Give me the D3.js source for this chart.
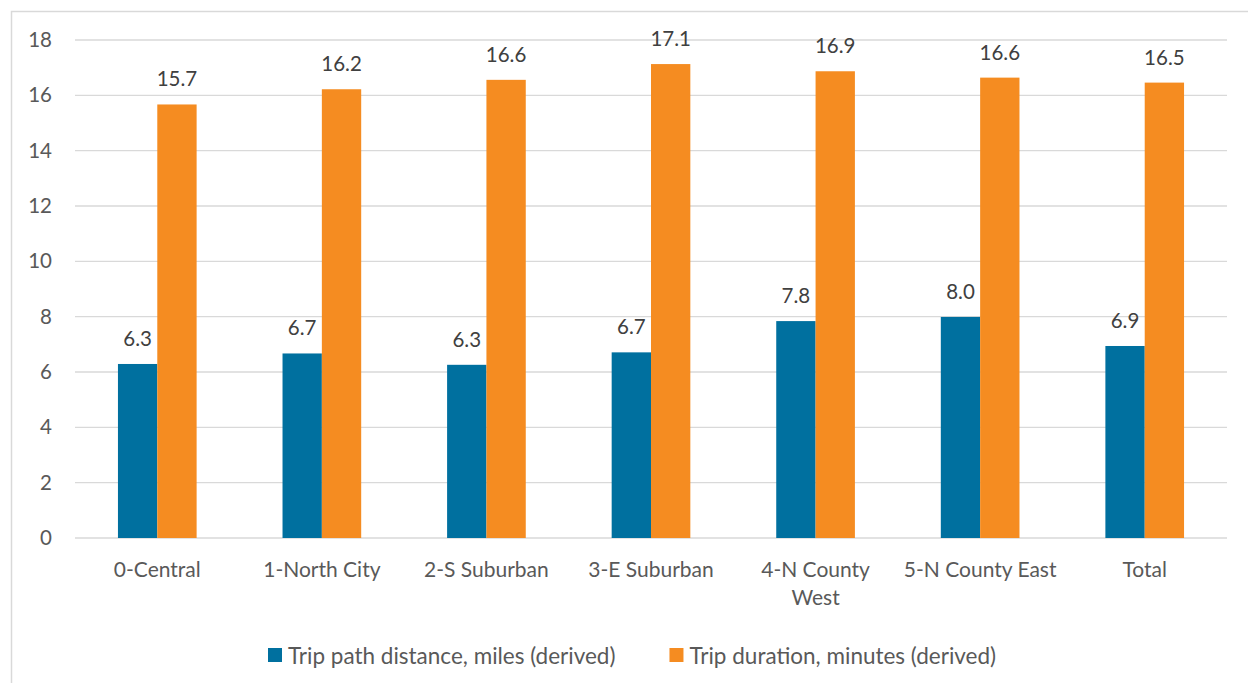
<!doctype html>
<html>
<head>
<meta charset="utf-8">
<script src="https://d3js.org/d3.v7.min.js"></script>
<style>
  body { margin: 0; background: #fff; }
  text { font-family: Lato, "Open Sans", sans-serif; fill: #595959; }
</style>
</head>
<body>
<div id="chart"></div>
<script>
// categories and series values
var categories = ["0-Central", "1-North City", "2-S Suburban", "3-E Suburban", "4-N County West", "5-N County East", "Total"];
var catLines = [["0-Central"], ["1-North City"], ["2-S Suburban"], ["3-E Suburban"], ["4-N County", "West"], ["5-N County East"], ["Total"]];
var seriesNames = ["Trip path distance, miles (derived)", "Trip duration, minutes (derived)"];
var distance = [6.29, 6.67, 6.26, 6.71, 7.84, 7.99, 6.94];
var duration = [15.67, 16.22, 16.56, 17.13, 16.87, 16.64, 16.46];
var yTicks = [0, 2, 4, 6, 8, 10, 12, 14, 16, 18];
var colors = ["#00709f", "#f58c21"];

var W = 1248, H = 683;
var margin = {top: 40, right: 21, bottom: 145, left: 75};
var width = W - margin.left - margin.right,
    height = H - margin.top - margin.bottom;

var svg = d3.select("#chart").append("svg")
    .attr("width", W)
    .attr("height", H);

// outer chart border
svg.append("rect")
    .attr("x", 11.5).attr("y", 11.5)
    .attr("width", W).attr("height", H)
    .attr("fill", "none")
    .attr("stroke", "#d9d9d9")
    .attr("stroke-width", 1.5);

var g = svg.append("g")
    .attr("transform", "translate(" + margin.left + "," + margin.top + ")");

var x0 = d3.scaleBand()
    .domain(categories)
    .range([0, width])
    .paddingInner(0.522)
    .paddingOuter(0.261);

var x1 = d3.scaleBand()
    .domain([0, 1])
    .range([0, x0.bandwidth()]);

var y = d3.scaleLinear()
    .domain([0, 18])
    .range([height, 0]);

// gridlines
g.selectAll(".grid")
    .data(yTicks)
    .enter().append("line")
    .attr("x1", 0).attr("x2", width)
    .attr("y1", function(d) { return y(d); })
    .attr("y2", function(d) { return y(d); })
    .attr("stroke", "#d9d9d9")
    .attr("stroke-width", 1.3);

// y axis labels
var yAxis = g.append("g")
    .call(d3.axisLeft(y).tickValues(yTicks).tickSize(0).tickPadding(23));
yAxis.select(".domain").remove();
yAxis.selectAll("text")
    .attr("font-size", "20.5px")
    .style("font-family", "Lato, sans-serif")
    .attr("fill", "#595959");

// bars
var rows = categories.map(function(c, i) {
    return {cat: c, vals: [distance[i], duration[i]]};
});

var groups = g.selectAll(".grp")
    .data(rows)
    .enter().append("g")
    .attr("transform", function(d) { return "translate(" + x0(d.cat) + ",0)"; });

groups.selectAll("rect")
    .data(function(d) { return d.vals; })
    .enter().append("rect")
    .attr("x", function(d, i) { return x1(i); })
    .attr("y", function(d) { return y(d); })
    .attr("width", x1.bandwidth())
    .attr("height", function(d) { return height - y(d); })
    .attr("fill", function(d, i) { return colors[i]; });

// value labels
groups.selectAll(".lbl")
    .data(function(d) { return d.vals; })
    .enter().append("text")
    .attr("x", function(d, i) { return x1(i) + x1.bandwidth() / 2; })
    .attr("y", function(d) { return y(d) - 18; })
    .attr("text-anchor", "middle")
    .attr("font-size", "20.5px")
    .style("fill", "#404040")
    .text(function(d) { return d3.format(".1f")(d); });

// category labels
var catText = g.selectAll(".cat")
    .data(rows)
    .enter().append("text")
    .attr("text-anchor", "middle")
    .attr("font-size", "21px")
    .attr("transform", function(d) {
        return "translate(" + (x0(d.cat) + x0.bandwidth() / 2) + "," + (height + 38.5) + ")";
    });
catText.selectAll("tspan")
    .data(function(d, i) { return catLines[i]; })
    .enter().append("tspan")
    .attr("x", 0)
    .attr("dy", function(d, i) { return i === 0 ? 0 : 28; })
    .text(function(d) { return d; });

// legend
var legend = svg.append("g").attr("transform", "translate(268,648)");
var lx = 0;
seriesNames.forEach(function(name, i) {
    var item = legend.append("g").attr("transform", "translate(" + lx + ",0)");
    item.append("rect")
        .attr("width", 14).attr("height", 14)
        .attr("fill", colors[i]);
    var t = item.append("text")
        .attr("x", 20)
        .attr("y", 16)
        .attr("font-size", "22.5px")
        .text(name);
    lx += 20 + t.node().getComputedTextLength() + 54;
});
</script>
</body>
</html>
